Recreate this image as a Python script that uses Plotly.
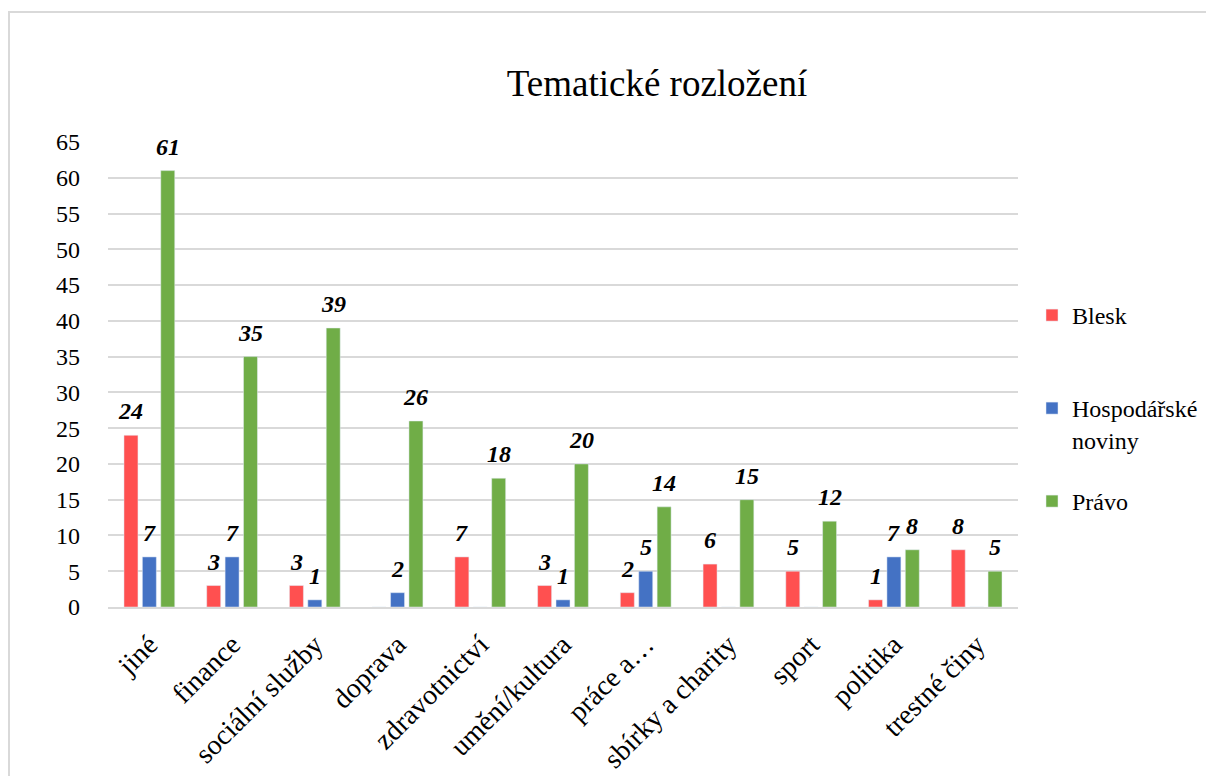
import plotly.graph_objects as go

categories = ["jiné", "finance", "sociální služby", "doprava", "zdravotnictví",
              "umění/kultura", "práce a…", "sbírky a charity", "sport", "politika", "trestné činy"]
blesk = [24, 3, 3, 0, 7, 3, 2, 6, 5, 1, 8]
hosp = [7, 7, 1, 2, 0, 1, 5, 0, 0, 7, 0]
pravo = [61, 35, 39, 26, 18, 20, 14, 15, 12, 8, 5]
series_names = ["Blesk", "Hospodářské<br>noviny", "Právo"]
colors = ["#FF5050", "#4472C4", "#70AD47"]
y_ticks = list(range(0, 66, 5))

FONT = "Liberation Serif"
OFF = 8  # default page body margin
W, H = 1214 - OFF, 776 - OFF
ML, MR, MT, MB = 108 - OFF, 196, 142 - OFF, 169
plot_w = W - ML - MR
plot_h = H - MT - MB
BARGAP = 0.333
BARGROUPGAP = 0.24
slot = plot_w / len(categories) * (1 - BARGAP) / 3

fig = go.Figure()
all_series = [blesk, hosp, pravo]
legend_ids = ["legend", "legend2", "legend3"]
for name, vals, col, lg in zip(series_names, all_series, colors, legend_ids):
    fig.add_trace(go.Bar(x=categories, y=vals, name=name, marker_color=col,
                         legend=lg, showlegend=True, hoverinfo="skip"))

annotations = []
for i, vals in enumerate(all_series):
    for cat, v in zip(categories, vals):
        if v > 0:
            annotations.append(dict(
                x=cat, y=v, xref="x", yref="y", text=f"<b><i>{v}</i></b>",
                showarrow=False, xshift=(i - 1) * slot, yshift=9,
                yanchor="bottom", xanchor="center",
                font=dict(family=FONT, size=24, color="#000000")))

# helpers: page pixel -> paper coordinate
def py(pix):
    return (OFF + H - MB - pix) / plot_h

def px(pix):
    return (pix - OFF - ML) / plot_w

legend_common = dict(font=dict(family=FONT, size=24, color="#000000"),
                     bgcolor="rgba(0,0,0,0)", xanchor="left", yanchor="top",
                     valign="top", itemwidth=30)

fig.update_layout(
    width=W, height=H,
    margin=dict(l=ML, r=MR, t=MT, b=MB, autoexpand=False),
    paper_bgcolor="white", plot_bgcolor="white",
    showlegend=True,
    barmode="group", bargap=BARGAP, bargroupgap=BARGROUPGAP,
    title=dict(text="Tematické rozložení", x=px(657), xref="paper", xanchor="center",
               y=1 - (83 - OFF) / H, yref="container", yanchor="middle",
               font=dict(family=FONT, size=37, color="#000000")),
    font=dict(family=FONT, color="#000000"),
    xaxis=dict(type="category", tickangle=-45, tickfont=dict(family=FONT, size=28, color="#000000"),
               showgrid=False, showline=True, linecolor="#d9d9d9", linewidth=2,
               ticks="", ticklabelstandoff=8),
    yaxis=dict(range=[0, 65], tickvals=y_ticks, ticktext=[str(t) for t in y_ticks],
               tickfont=dict(family=FONT, size=24, color="#000000"),
               showgrid=True, gridcolor="#d9d9d9", gridwidth=2,
               zeroline=False, showline=False, ticks="", ticklabelstandoff=27),
    legend=dict(x=px(1032), y=py(293), **legend_common),
    legend2=dict(x=px(1032), y=py(386), **legend_common),
    legend3=dict(x=px(1032), y=py(479), **legend_common),
    annotations=annotations,
    shapes=[dict(type="rect", xref="paper", yref="paper",
                 x0=px(9), x1=px(1260), y0=py(800), y1=py(12),
                 line=dict(color="#d9d9d9", width=2), fillcolor="rgba(0,0,0,0)",
                 layer="below")],
)

fig.write_html("out.html")
